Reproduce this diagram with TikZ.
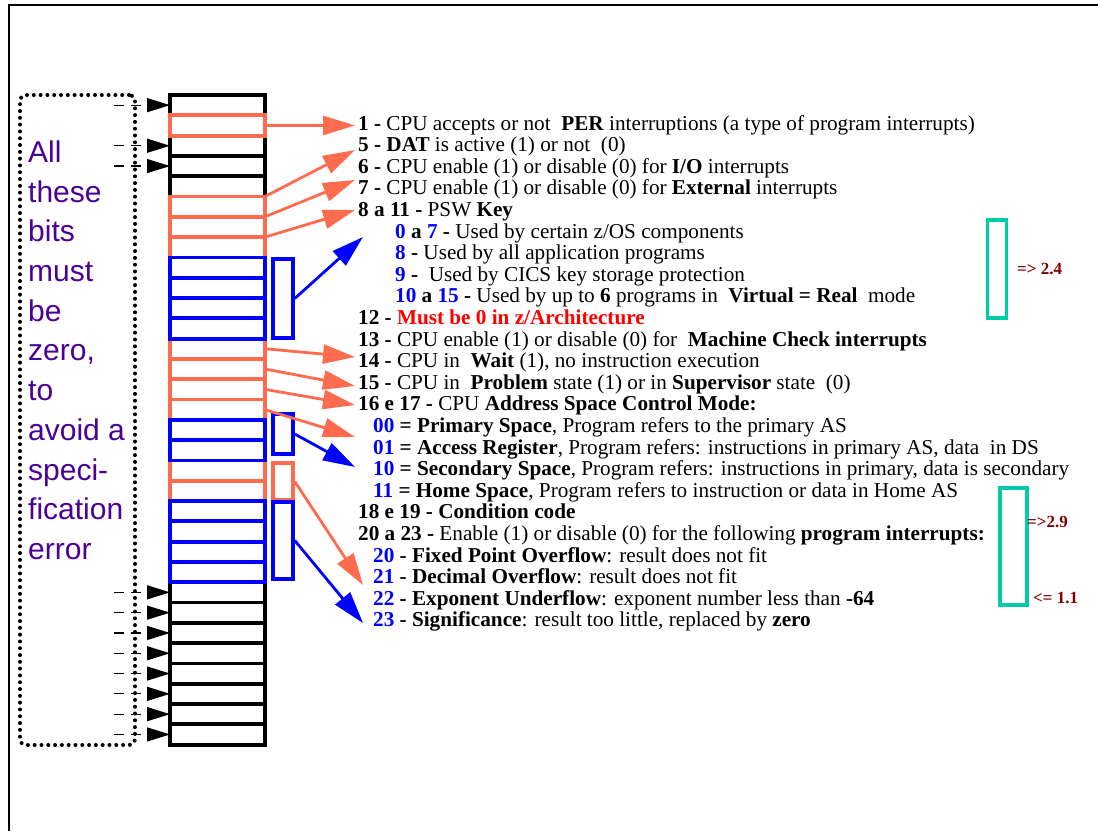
\documentclass[tikz,border=0pt]{standalone}
\usepackage{fontspec}
\setmainfont{Liberation Serif}
\newfontfamily\notefont{Liberation Sans}
\definecolor{BitOrange}{RGB}{255,107,79}
\definecolor{BitBlue}  {RGB}{0,0,255}
\definecolor{BoxTeal}  {RGB}{0,204,170}
\definecolor{NotePurple}{RGB}{75,0,150}
\definecolor{RefRed}   {RGB}{128,0,0}
\usetikzlibrary{arrows.meta,positioning,calc}

\begin{document}
\begin{tikzpicture}[x=1pt,y=-1pt,
  bit/.style={draw,line width=3.8pt,inner sep=0pt,outer sep=0pt,
              minimum width=95pt,minimum height=20.3pt},
  grp/.style={draw,line width=3.5pt,inner sep=0pt,minimum width=20pt},
  txt/.style={anchor=base west,inner sep=0pt,
              font=\fontsize{21.2}{21.6}\selectfont},
  ref/.style={anchor=base west,inner sep=0pt,text=RefRed,
              font=\fontsize{17}{20}\selectfont\bfseries},
  teal/.style={draw=BoxTeal,line width=3.8pt,inner sep=0pt},
  zarr/.style={dash pattern=on 10pt off 7pt,line width=1.2pt,
               -{Triangle[length=23pt,width=14pt]}},
  oarr/.style={BitOrange,line width=2.8pt,
               -{Triangle[length=32pt,width=19pt]}},
  barr/.style={BitBlue,line width=2.8pt,
               -{Triangle[length=32pt,width=19pt]}}]
  \useasboundingbox (0,0) rectangle (1098,831);
  \draw[line width=1.6pt] (1098,5) -- (9,5) -- (9,831);

  \node[draw,line width=4pt,dash pattern=on 0pt off 6.8pt,
        line cap=round,rounded corners=6pt,inner sep=0pt,
        minimum width=115pt,minimum height=650pt] (zone) at (77.5,420) {};
  \node[anchor=north west,inner sep=0pt,align=left,text=NotePurple,
        font=\notefont\fontsize{30}{39.7}\selectfont] (msg) at (28,140.5)
        {All\\these\\bits\\must\\be\\zero,\\to\\avoid a\\speci-\\fication\\error};

  \foreach \i in {0,2,3,4,24,25,26,27,28,29,30,31}
    \node[bit,draw=black] (b\i) at (217.5,{105.15+20.3*\i}) {};
  \foreach \i in {1,5,6,7,12,13,14,15,18,19}
    \node[bit,draw=BitOrange] (b\i) at (217.5,{105.15+20.3*\i}) {};
  \foreach \i in {8,9,10,11,16,17,20,21,22,23}
    \node[bit,draw=BitBlue] (b\i) at (217.5,{105.15+20.3*\i}) {};

  \foreach \i in {0,2,3,24,25,26,27,28,29,30,31}{
    \path (b\i.west) ++(-56,0) coordinate (z\i);
    \draw[zarr] (z\i) -- (b\i.west);
  }

  \node[grp,draw=BitBlue,minimum height=79pt] (key) at (283,298.5) {};
  \node[grp,draw=BitBlue,minimum height=40pt] (asc) at (283,434) {};
  \node[grp,draw=BitOrange,minimum height=37pt] (cc) at (283,481.5) {};
  \node[grp,draw=BitBlue,minimum height=77pt] (pgm) at (283,540.5) {};

  \node[txt] (t1) at (358,130)
        {\textbf{1 -} CPU accepts or not \ \textbf{PER} interruptions (a type of program interrupts)};
  \node[txt] (t5) at (358,151.6)
        {\textbf{5 - DAT} is active (1) or not \ (0)};
  \node[txt] (t6) at (358,173.2)
        {\textbf{6 -} CPU enable (1) or disable (0) for \textbf{I/O} interrupts};
  \node[txt] (t7) at (358,194.8)
        {\textbf{7 -} CPU enable (1) or disable (0) for \textbf{External} interrupts};
  \node[txt] (t8) at (358,216.4)
        {\textbf{8 a 11 -} PSW \textbf{Key}};
  \node[txt] (k1) at (395,238)
        {\textbf{\textcolor{BitBlue}{0} a \textcolor{BitBlue}{7} -} Used by certain z/OS components};
  \node[txt] (k2) at (395,259.6)
        {\textbf{\textcolor{BitBlue}{8} -} Used by all application programs};
  \node[txt] (k3) at (395,281.2)
        {\textbf{\textcolor{BitBlue}{9} -} \ Used by CICS key storage protection};
  \node[txt] (k4) at (395,302.8)
        {\textbf{\textcolor{BitBlue}{10} a \textcolor{BitBlue}{15} -} Used by up to \textbf{6} programs in \ \textbf{Virtual = Real} \ mode};
  \node[txt] (t12) at (358,324.4)
        {\textbf{12 - \textcolor{red}{Must be 0 in z/Architecture}}};
  \node[txt] (t13) at (358,346)
        {\textbf{13 -} CPU enable (1) or disable (0) for \ \textbf{Machine Check interrupts}};
  \node[txt] (t14) at (358,367.6)
        {\textbf{14 -} CPU in \ \textbf{Wait} (1), no instruction execution};
  \node[txt] (t15) at (358,389.2)
        {\textbf{15 -} CPU in \ \textbf{Problem} state (1) or in \textbf{Supervisor} state \ (0)};
  \node[txt] (t16) at (358,410.8)
        {\textbf{16 e 17 -} CPU \textbf{Address Space Control Mode:}};
  \node[txt] (m00) at (373,432.4)
        {\textbf{\textcolor{BitBlue}{00} = Primary Space}, Program refers to the primary AS};
  \node[txt] (m01) at (373,454)
        {\textbf{\textcolor{BitBlue}{01} = Access Register}, Program refers: instructions in primary AS, data \ in DS};
  \node[txt] (m10) at (373,475.6)
        {\textbf{\textcolor{BitBlue}{10} = Secondary Space}, Program refers: instructions in primary, data is secondary};
  \node[txt] (m11) at (373,497.2)
        {\textbf{\textcolor{BitBlue}{11} = Home Space}, Program refers to instruction or data in Home AS};
  \node[txt] (t18) at (358,518.8)
        {\textbf{18 e 19 - Condition code}};
  \node[txt] (t20) at (358,540.4)
        {\textbf{20 a 23 -} Enable (1) or disable (0) for the following \textbf{program interrupts:}};
  \node[txt] (p20) at (373,562)
        {\textbf{\textcolor{BitBlue}{20} - Fixed Point Overflow}: result does not fit};
  \node[txt] (p21) at (373,583.6)
        {\textbf{\textcolor{BitBlue}{21} - Decimal Overflow}: result does not fit};
  \node[txt] (p22) at (373,605.2)
        {\textbf{\textcolor{BitBlue}{22} - Exponent Underflow}: exponent number less than \textbf{-64}};
  \node[txt] (p23) at (373,626.8)
        {\textbf{\textcolor{BitBlue}{23} - Significance}: result too little, replaced by \textbf{zero}};

  \coordinate (a1) at (355,125.45);
  \coordinate (a5) at (355,150);
  \coordinate (a6) at (355,180);
  \coordinate (a7) at (355,210);
  \coordinate (a12) at (355,357);
  \coordinate (a13) at (355,386);
  \coordinate (a14) at (355,405);
  \coordinate (a15) at (355,437);
  \coordinate (aK) at (363,237);
  \coordinate (aM) at (355,467);
  \coordinate (aC) at (363,585);
  \coordinate (aP) at (363,623);

  \draw[oarr] (b1.east) -- (a1);
  \draw[oarr] (b5.north east) -- (a5);
  \draw[oarr] (b6.north east) -- (a6);
  \draw[oarr] (b7.north east) -- (a7);
  \foreach \i in {12,13,14,15}
    \draw[oarr] (b\i.east) -- (a\i);
  \draw[barr] (key.east) -- (aK);
  \draw[barr] (asc.east) -- (aM);
  \draw[oarr] (cc.east) -- (aC);
  \draw[barr] (pgm.east) -- (aP);

  \node[teal,minimum width=19pt,minimum height=98pt] (r24) at (997,269) {};
  \node[teal,minimum width=27pt,minimum height=117pt] (r29) at (1013.5,546.5) {};
  \node[ref] (l24) at (1017,274) {=> 2.4};
  \node[ref] (l29) at (1027,527) {=>2.9};
  \node[ref] (l11) at (1033,603) {<= 1.1};
\end{tikzpicture}
\end{document}
